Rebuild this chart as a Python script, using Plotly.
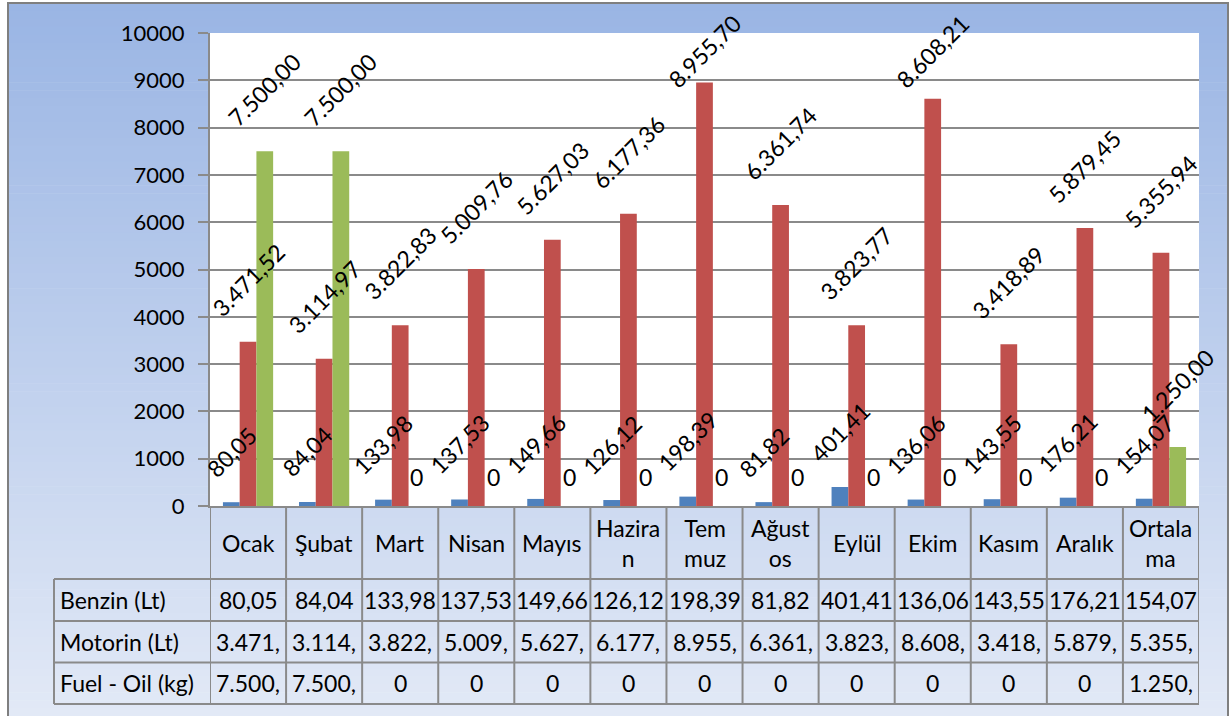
import plotly.graph_objects as go

# ---------------- data ----------------
categories = ["Ocak", "Şubat", "Mart", "Nisan", "Mayıs", "Haziran", "Temmuz",
              "Ağustos", "Eylül", "Ekim", "Kasım", "Aralık", "Ortalama"]
header_labels = ["Ocak", "Şubat", "Mart", "Nisan", "Mayıs", "Hazira<br>n", "Tem<br>muz",
                 "Ağust<br>os", "Eylül", "Ekim", "Kasım", "Aralık", "Ortala<br>ma"]
series_names = ["Benzin (Lt)", "Motorin (Lt)", "Fuel - Oil (kg)"]
benzin = [80.05, 84.04, 133.98, 137.53, 149.66, 126.12, 198.39, 81.82, 401.41,
          136.06, 143.55, 176.21, 154.07]
motorin = [3471.52, 3114.97, 3822.83, 5009.76, 5627.03, 6177.36, 8955.70, 6361.74,
           3823.77, 8608.21, 3418.89, 5879.45, 5355.94]
fuel_oil = [7500, 7500, 0, 0, 0, 0, 0, 0, 0, 0, 0, 0, 1250]
y_ticks = [0, 1000, 2000, 3000, 4000, 5000, 6000, 7000, 8000, 9000, 10000]

# ---------------- styles ----------------
colors = ["#4F81BD", "#C0504D", "#9BBB59"]
FONT = "Lato"
FS = 22
FS_LAB = 23
FS_TAB = 23
GRID = "#8A8A8A"
W, H = 1231, 716
L, R, T, B = 210, 1199, 33, 506  # plot area pixel box
Y_MAX = 10000
LABEL_TOP_LIMIT = 51  # label centers are kept inside the chart area (px)


def px2x(px):
    return (px - L) / (R - L)


def py2y(py):
    return (B - py) / (B - T)


def tr_fmt(v):
    if v == 0:
        return "0"
    s = f"{v:,.2f}"
    return s.replace(",", "X").replace(".", ",").replace("X", ".")


series = [benzin, motorin, fuel_oil]

fig = go.Figure()
for name, vals, col in zip(series_names, series, colors):
    fig.add_trace(go.Bar(x=categories, y=vals, name=name, marker_color=col,
                         marker_line_width=0))

shapes = []
# gradient background (chart area)
N = 90
top_c = (154, 181, 228)
bot_c = (226, 233, 246)
y0p, y1p = 3, 716
for k in range(N):
    t = k / (N - 1)
    c = tuple(int(round(top_c[i] + (bot_c[i] - top_c[i]) * t)) for i in range(3))
    ya = y0p + (y1p - y0p) * k / N
    yb = y0p + (y1p - y0p) * (k + 1) / N + 0.6
    shapes.append(dict(type="rect", xref="paper", yref="paper",
                       x0=px2x(8), x1=px2x(1228), y0=py2y(yb), y1=py2y(ya),
                       line_width=0, fillcolor=f"rgb{c}", layer="below"))
# white plot area
shapes.append(dict(type="rect", xref="paper", yref="paper", x0=0, x1=1, y0=0, y1=1,
                   line_width=0, fillcolor="white", layer="below"))
# outer border
shapes.append(dict(type="rect", xref="paper", yref="paper",
                   x0=px2x(8), x1=px2x(1228), y0=py2y(717), y1=py2y(3),
                   line=dict(color="#7F7F7F", width=2), fillcolor="rgba(0,0,0,0)",
                   layer="above"))

# data table lines
row_lines = [579, 621, 662.5, 704]
for ry in row_lines:
    shapes.append(dict(type="line", xref="paper", yref="paper",
                       x0=px2x(54), x1=1, y0=py2y(ry), y1=py2y(ry),
                       line=dict(color=GRID, width=2)))
shapes.append(dict(type="line", xref="paper", yref="paper",
                   x0=px2x(54), x1=px2x(54), y0=py2y(579), y1=py2y(704),
                   line=dict(color=GRID, width=2)))
for k in range(len(categories) + 1):
    shapes.append(dict(type="line", xref="x", yref="paper",
                       x0=k - 0.5, x1=k - 0.5, y0=py2y(506), y1=py2y(704),
                       line=dict(color=GRID, width=2)))

annotations = []
# header labels
for i, lab in enumerate(header_labels):
    annotations.append(dict(xref="x", yref="paper", x=i, y=py2y(543), text=lab,
                            showarrow=False, font=dict(family=FONT, size=FS_TAB, color="black"),
                            xanchor="center", yanchor="middle"))
# row labels and cell values
row_centers = [600, 641.5, 683]
for name, vals, cy in zip(series_names, series, row_centers):
    annotations.append(dict(xref="paper", yref="paper", x=px2x(58), y=py2y(cy), text=name,
                            showarrow=False, font=dict(family=FONT, size=FS_TAB, color="black"),
                            xanchor="left", yanchor="middle"))
    for i, v in enumerate(vals):
        annotations.append(dict(xref="x", yref="paper", x=i, y=py2y(cy),
                                text=tr_fmt(v)[:6], showarrow=False,
                                font=dict(family=FONT, size=FS_TAB, color="black"),
                                xanchor="center", yanchor="middle"))

# data labels
offsets = [-0.22, 0.0, 0.22]
for vals, off in zip(series, offsets):
    for i, v in enumerate(vals):
        if v == 0:
            annotations.append(dict(xref="x", yref="y", x=i + off, y=v, text="0",
                                    showarrow=False, textangle=0,
                                    font=dict(family=FONT, size=FS_LAB, color="black"),
                                    xanchor="center", yanchor="bottom", yshift=13))
            continue
        txt = tr_fmt(v)
        bar_top = B - v / Y_MAX * (B - T)
        natural_center = bar_top - 17 - 37
        if natural_center < LABEL_TOP_LIMIT:
            # keep label inside chart area, like the original
            annotations.append(dict(xref="x", yref="y", x=i + off, y=v, text=txt,
                                    showarrow=False, textangle=-45,
                                    font=dict(family=FONT, size=FS_LAB, color="black"),
                                    xanchor="center", yanchor="middle",
                                    yshift=bar_top - LABEL_TOP_LIMIT))
        else:
            annotations.append(dict(xref="x", yref="y", x=i + off, y=v, text=txt,
                                    showarrow=False, textangle=-45,
                                    font=dict(family=FONT, size=FS_LAB, color="black"),
                                    xanchor="center", yanchor="bottom", yshift=17))

fig.update_layout(
    width=W, height=H,
    margin=dict(l=L, r=W - R, t=T, b=H - B, pad=0),
    paper_bgcolor="white", plot_bgcolor="white",
    barmode="group", bargap=0.34, bargroupgap=0,
    showlegend=False,
    shapes=shapes, annotations=annotations,
    font=dict(family=FONT, size=FS, color="black"),
    xaxis=dict(type="category", range=[-0.5, len(categories) - 0.5],
               showticklabels=False, showgrid=False, ticks="",
               showline=True, linecolor=GRID, linewidth=2, zeroline=False),
    yaxis=dict(range=[0, Y_MAX], tickvals=y_ticks, ticktext=[str(t) for t in y_ticks],
               showgrid=True, gridcolor=GRID, gridwidth=2,
               showline=True, linecolor=GRID, linewidth=2,
               ticks="outside", ticklen=10, tickwidth=2, tickcolor=GRID,
               tickfont=dict(family=FONT, size=FS, color="black"),
               ticklabelstandoff=9, zeroline=False),
)

fig.write_html("out.html", config={"displayModeBar": False},
               post_script="document.body.style.margin='0';document.body.style.overflow='hidden';")
